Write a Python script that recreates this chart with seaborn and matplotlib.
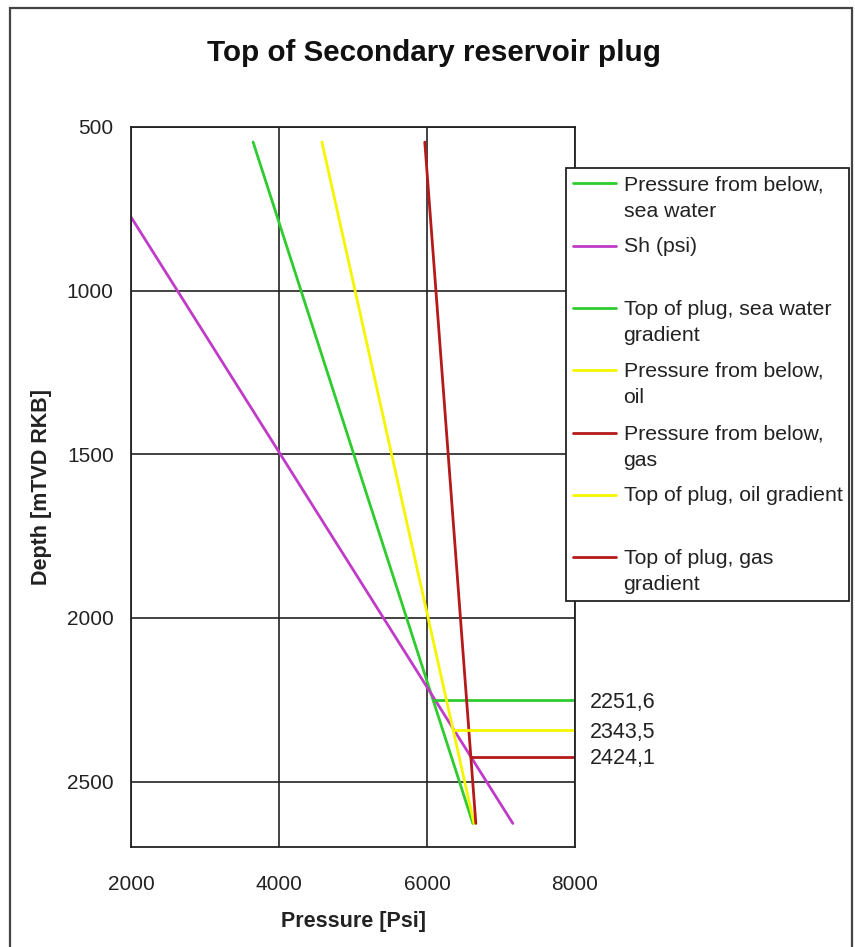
import matplotlib
matplotlib.use("Agg")
import matplotlib.pyplot as plt
from matplotlib.patches import Rectangle
from matplotlib.legend_handler import HandlerLine2D
import seaborn as sns

# Depth (mTVD RKB) end points of the pressure profiles
depth_profile = [546, 2628]
p_below_sea = [3650, 6620]
p_below_oil = [4580, 6635]
p_below_gas = [5970, 6660]

# Minimum horizontal stress
sh_depth = [775, 2628]
sh_psi = [2000, 7160]

# Top of plug depths and the pressure where each meets Sh
plug_depth = [2251.6, 2343.5, 2424.1]
plug_start = [6090, 6370, 6600]
plug_end = 8000

x_ticks = [2000, 4000, 6000, 8000]
y_ticks = [500, 1000, 1500, 2000, 2500]

GREEN = "#2ECC2E"
PURPLE = "#C03CC8"
YELLOW = "#F5F500"
RED = "#B51A1A"

sns.set_theme(style="white")
plt.rcParams["font.family"] = ["Liberation Sans", "DejaVu Sans"]

fig = plt.figure(figsize=(8.55, 9.47), dpi=100)
ax = fig.add_axes([131 / 855, 1 - 847 / 947, 444 / 855, 720 / 947])

lw = 1.5
sns.lineplot(x=p_below_sea, y=depth_profile, ax=ax, color=GREEN, lw=lw,
             sort=False, estimator=None, label="Pressure from below,\nsea water")
sns.lineplot(x=sh_psi, y=sh_depth, ax=ax, color=PURPLE, lw=lw,
             sort=False, estimator=None, label="Sh (psi)\n ")
sns.lineplot(x=[plug_start[0], plug_end], y=[plug_depth[0]] * 2, ax=ax, color=GREEN,
             lw=2.4, sort=False, estimator=None, label="Top of plug, sea water\ngradient")
sns.lineplot(x=p_below_oil, y=depth_profile, ax=ax, color=YELLOW, lw=lw,
             sort=False, estimator=None, label="Pressure from below,\noil")
sns.lineplot(x=p_below_gas, y=depth_profile, ax=ax, color=RED, lw=lw,
             sort=False, estimator=None, label="Pressure from below,\ngas")
sns.lineplot(x=[plug_start[1], plug_end], y=[plug_depth[1]] * 2, ax=ax, color=YELLOW,
             lw=2.4, sort=False, estimator=None, label="Top of plug, oil gradient\n ")
sns.lineplot(x=[plug_start[2], plug_end], y=[plug_depth[2]] * 2, ax=ax, color=RED,
             lw=2.4, sort=False, estimator=None, label="Top of plug, gas\ngradient")

for d in plug_depth:
    ax.annotate(f"{d:.1f}".replace(".", ","), xy=(plug_end, d), xytext=(11, -1.5),
                textcoords="offset points", va="center", ha="left",
                fontsize=15.5, color="#222222", annotation_clip=False)

ax.set_xlim(2000, 8000)
ax.set_ylim(2700, 500)
ax.set_xticks(x_ticks)
ax.set_yticks(y_ticks)
ax.grid(True, color="#222222", lw=1.2)
ax.set_axisbelow(True)
for s in ax.spines.values():
    s.set_color("#222222")
    s.set_linewidth(1.3)
ax.tick_params(axis="both", direction="out", length=5.5, width=1.0, color="#222222",
               labelsize=15, labelcolor="#222222")
ax.tick_params(axis="x", pad=15)
ax.tick_params(axis="y", pad=7)

ax.set_xlabel("Pressure [Psi]", fontsize=15.5, fontweight="bold", color="#222222")
ax.set_ylabel("Depth [mTVD RKB]", fontsize=15.5, fontweight="bold", color="#222222")
ax.xaxis.set_label_coords(0.5, -0.089)
ax.yaxis.set_label_coords(-0.177, 0.5)

fig.text(434 / 855, 1 - 61 / 947, "Top of Secondary reservoir plug", ha="center",
         va="baseline", fontsize=21.3, fontweight="bold", color="#111111")


class FirstLineHandler(HandlerLine2D):
    """Place the legend sample at the height of the first label line."""

    def create_artists(self, legend, orig_handle, xdescent, ydescent, width,
                       height, fontsize, trans):
        arts = super().create_artists(legend, orig_handle, xdescent, ydescent,
                                      width, height, fontsize, trans)
        for a in arts:
            a.set_ydata([v + 0.68 * fontsize for v in a.get_ydata()])
        return arts


handles, labels = ax.get_legend_handles_labels()
for h in handles:
    h.set_linewidth(2.0)
leg = ax.legend(handles, labels, loc="upper left",
                bbox_to_anchor=(566 / 855, 1 - 168 / 947),
                bbox_transform=fig.transFigure, borderaxespad=0, fontsize=15.3,
                frameon=True, fancybox=False, framealpha=1, edgecolor="#222222",
                borderpad=0.33, handlelength=2.0, handletextpad=0.38,
                labelspacing=0.79, handler_map={matplotlib.lines.Line2D: FirstLineHandler()})
leg.get_frame().set_linewidth(1.3)
for t in leg.get_texts():
    t.set_color("#222222")
    t.set_linespacing(1.5)

fig.patches.append(Rectangle((10 / 855, -0.05), 842 / 855, 1 - 8 / 947 + 0.05,
                             transform=fig.transFigure, fill=False,
                             edgecolor="#444444", lw=1.6))

fig.savefig("out.png", dpi=100, facecolor="white")
